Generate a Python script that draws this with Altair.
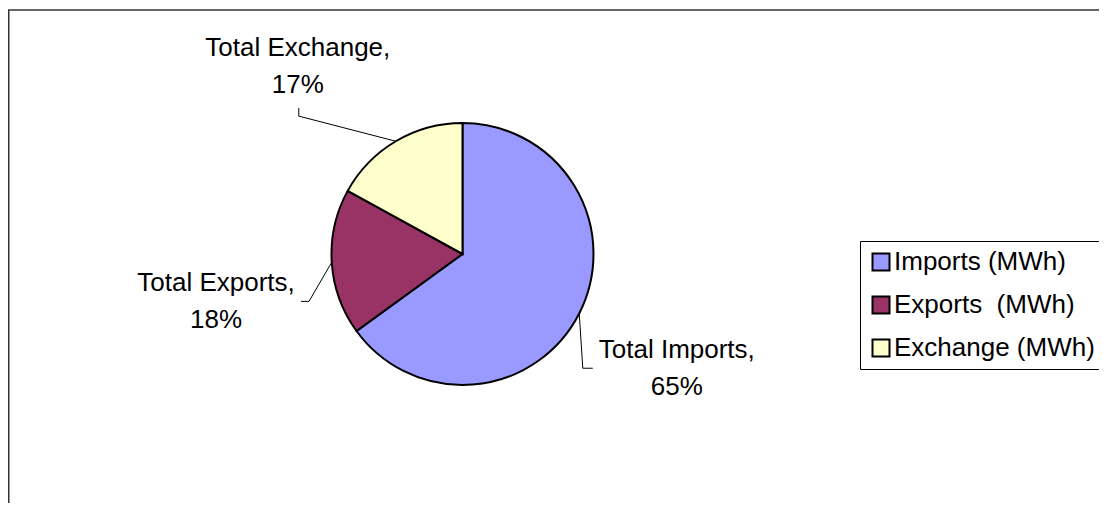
import altair as alt
import pandas as pd

# ---- data ----
keys = ["Imports", "Exports", "Exchange"]
legend_labels = ["Imports (MWh)", "Exports\u00a0 (MWh)", "Exchange (MWh)"]
shares = [65, 18, 17]
colors = ["#9999FF", "#993366", "#FFFFCC"]

df = pd.DataFrame({"idx": [0, 1, 2], "key": keys, "series": legend_labels, "share": shares})

# ---- layout ----
FONT = "Liberation Sans"
CX, CY = 448.5, 240
R_PIE = 131
R_LAB = 245
label_nudge = {"Imports": (-4, 3), "Exports": (-2, 32), "Exchange": (-40, 23)}
elbow = {"Imports": (-94, 0), "Exports": (93, 0), "Exchange": (1, 50)}
tail = {"Imports": (-84, 0), "Exports": (85, 0), "Exchange": (1, 42)}


def pick(d, i):
    items = list(d.items())
    expr = str(items[-1][1][i])
    for k, v in reversed(items[:-1]):
        expr = f"(datum.key == '{k}' ? {v[i]} : {expr})"
    return expr


base = (
    alt.Chart(df)
    .transform_joinaggregate(total="sum(share)")
    .transform_window(cum="sum(share)", sort=[alt.SortField("idx")], frame=[None, 0])
    .transform_calculate(
        mid="2*PI*(datum.cum - datum.share/2)/datum.total",
        pct="round(100*datum.share/datum.total)",
    )
    .transform_calculate(
        label="'Total ' + datum.key + ',\\n' + datum.pct + '%'",
        lx=f"{CX} + {R_LAB}*sin(datum.mid) + {pick(label_nudge, 0)}",
        ly=f"{CY} - {R_LAB}*cos(datum.mid) + {pick(label_nudge, 1)}",
        sx=f"{CX} + {R_PIE}*sin(datum.mid)",
        sy=f"{CY} - {R_PIE}*cos(datum.mid)",
    )
    .transform_calculate(
        e1x=f"datum.lx + {pick(elbow, 0)}",
        e1y=f"datum.ly + {pick(elbow, 1)}",
        e2x=f"datum.lx + {pick(tail, 0)}",
        e2y=f"datum.ly + {pick(tail, 1)}",
    )
)

pie = alt.Chart(df).mark_arc(outerRadius=R_PIE, stroke="black", strokeWidth=2).encode(
    theta=alt.Theta("share:Q", stack=True),
    order=alt.Order("idx:Q"),
    color=alt.Color(
        "series:N",
        scale=alt.Scale(domain=legend_labels, range=colors),
        legend=alt.Legend(title=None, orient="none", legendX=846, legendY=227, direction="vertical"),
    ),
    x=alt.value(CX),
    y=alt.value(CY),
)

seg1 = base.mark_rule(color="black", strokeWidth=1).encode(
    x=alt.X("sx:Q", scale=None, axis=None),
    y=alt.Y("sy:Q", scale=None, axis=None),
    x2="e1x:Q",
    y2="e1y:Q",
)
seg2 = base.mark_rule(color="black", strokeWidth=1).encode(
    x=alt.X("e1x:Q", scale=None, axis=None),
    y=alt.Y("e1y:Q", scale=None, axis=None),
    x2="e2x:Q",
    y2="e2y:Q",
)
labels = base.mark_text(
    font=FONT, fontSize=26, lineBreak="\n", lineHeight=37, align="center", baseline="middle",
    color="black", dy=-18.5,
).encode(
    x=alt.X("lx:Q", scale=None, axis=None),
    y=alt.Y("ly:Q", scale=None, axis=None),
    text="label:N",
)

dummy = alt.Data(values=[{"a": 1}])
border_top = alt.Chart(dummy).mark_rule(color="#333333", strokeWidth=1.5).encode(
    x=alt.value(-6), x2=alt.value(1200), y=alt.value(-4)
)
border_left = alt.Chart(dummy).mark_rule(color="#333333", strokeWidth=2).encode(
    x=alt.value(-5.5), y=alt.value(-4), y2=alt.value(600)
)

chart = (
    alt.layer(border_top, border_left, pie, seg1, seg2, labels)
    .properties(
        width=1085,
        height=489,
        padding={"left": 6, "top": 6, "right": 0, "bottom": 0},
        autosize=alt.AutoSizeParams(type="none"),
        background="white",
    )
    .configure_view(stroke=None)
    .configure_legend(
        fillColor="white",
        strokeColor="black",
        strokeWidth=1,
        padding=8,
        symbolType="square",
        symbolSize=289,
        symbolStrokeColor="black",
        symbolStrokeWidth=2,
        symbolOpacity=1,
        labelFont=FONT,
        labelFontSize=26,
        labelColor="black",
        labelLimit=500,
        rowPadding=17,
        labelOffset=0,
        symbolOffset=0,
    )
)

chart.save("out.html", embed_options={"renderer": "svg", "actions": False})
